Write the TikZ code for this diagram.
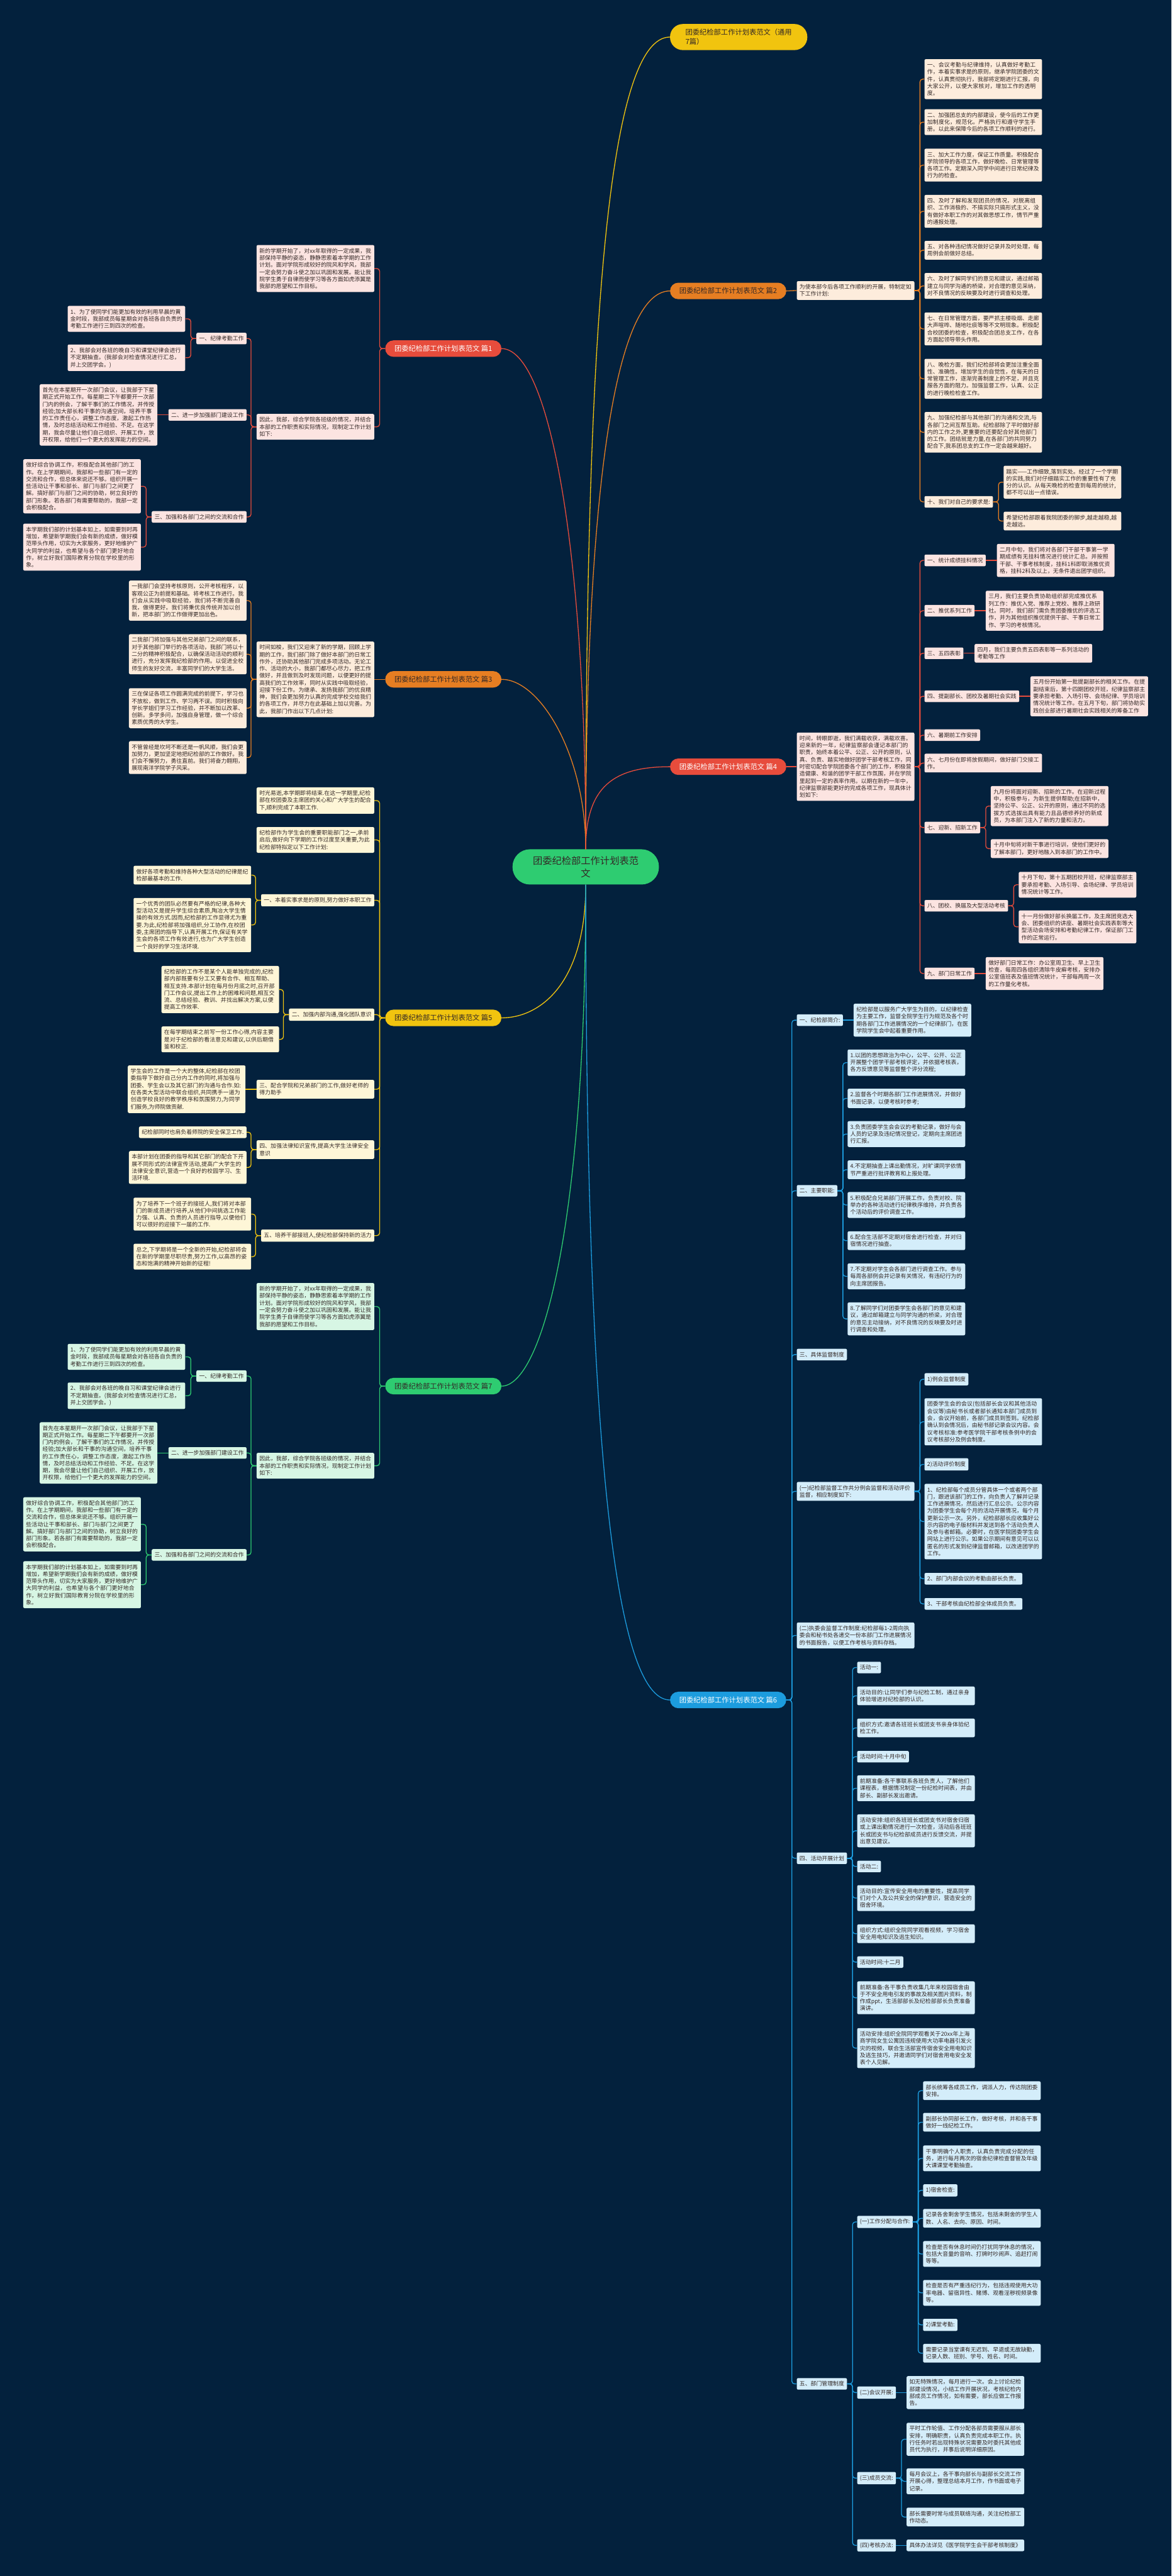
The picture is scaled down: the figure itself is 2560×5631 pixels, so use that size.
\documentclass[tikz,border=0pt]{standalone}
\usepackage{fontspec}
\setmainfont{Noto Sans CJK SC}
\usepackage{tikz}
\usetikzlibrary{positioning}
\definecolor{navy}{RGB}{3,33,61}
\definecolor{ink}{RGB}{51,40,38}
\definecolor{redc}{RGB}{231,76,60}
\definecolor{orangec}{RGB}{230,126,34}
\definecolor{yellowc}{RGB}{241,196,15}
\definecolor{greenc}{RGB}{46,204,113}
\definecolor{bluec}{RGB}{28,156,222}
\definecolor{redp}{RGB}{252,228,225}
\definecolor{orangep}{RGB}{253,236,220}
\definecolor{yellowp}{RGB}{254,246,215}
\definecolor{greenp}{RGB}{215,246,228}
\definecolor{bluep}{RGB}{212,237,250}
\XeTeXlinebreaklocale "zh"
\XeTeXlinebreakskip=0pt plus 1pt

\begin{document}
\begin{tikzpicture}[x=1pt,y=-1pt,
    every node/.style={text=ink},
    note/.style={rounded corners=3pt,inner xsep=6pt,inner ysep=7pt,
                 font=\fontsize{12.2}{15.5}\selectfont,align=left},
    box/.style={note,text width=245pt},
    tag/.style={note},
    main/.style={rounded corners=18pt,minimum height=36pt,minimum width=254pt,
                 font=\fontsize{15.5}{18}\selectfont},
    root/.style={fill=greenc,rounded corners=38pt,minimum width=320pt,minimum height=77pt,
                 align=center,font=\fontsize{21}{27}\selectfont},
    link/.style={line width=1.8pt,rounded corners=6pt},
  ]
  \fill[navy] (0,0) rectangle (2560,5631);
  \useasboundingbox (0,0) rectangle (2560,5631);

  % centre and the seven branches
  \node[root] (root) at (1280,1895) {团委纪检部工作计划表范\\文};
  \node[main,fill=yellowc,anchor=west,minimum width=300pt,minimum height=57pt,rounded corners=28pt,
        align=left,font=\fontsize{15.5}{20}\selectfont] (gen) at (1464,81) {团委纪检部工作计划表范文（通用\\7篇）};
  \node[main,fill=redc,text=white,anchor=east] (b1) at (1096,762) {团委纪检部工作计划表范文 篇1};
  \node[main,fill=orangec,anchor=west] (b2) at (1464,636) {团委纪检部工作计划表范文 篇2};
  \node[main,fill=orangec,anchor=east] (b3) at (1096,1485) {团委纪检部工作计划表范文 篇3};
  \node[main,fill=redc,text=white,anchor=west] (b4) at (1464,1676) {团委纪检部工作计划表范文 篇4};
  \node[main,fill=yellowc,anchor=east] (b5) at (1096,2225) {团委纪检部工作计划表范文 篇5};
  \node[main,fill=bluec,text=white,anchor=west] (b6) at (1464,3716) {团委纪检部工作计划表范文 篇6};
  \node[main,fill=greenc,anchor=east] (b7) at (1096,3030) {团委纪检部工作计划表范文 篇7};

  \draw[link,draw=yellowc] (root.north) .. controls (1280,700) and (1330,81) .. (gen.west);
  \draw[link,draw=orangec] (root.north) .. controls (1280,1100) and (1340,636) .. (b2.west);
  \draw[link,draw=redc] (root.north) .. controls (1280,1200) and (1200,762) .. (b1.east);
  \draw[link,draw=orangec] (root.north) .. controls (1280,1650) and (1180,1485) .. (b3.east);
  \draw[link,draw=redc] (root.north) .. controls (1280,1720) and (1340,1676) .. (b4.west);
  \draw[link,draw=yellowc] (root.south) .. controls (1280,2150) and (1180,2225) .. (b5.east);
  \draw[link,draw=greenc] (root.south) .. controls (1280,2700) and (1180,3030) .. (b7.east);
  \draw[link,draw=bluec] (root.south) .. controls (1280,3300) and (1360,3716) .. (b6.west);

  % 篇1
  \begin{scope}[note/.append style={fill=redp},link/.append style={draw=redc}]
    \node[box,anchor=east] (p1i1) at (818,587) {新的学期开始了，对xx年取得的一定成果，我部保持平静的姿态，静静思索着本学期的工作计划。面对学院形成较好的院风和学风，我部一定会努力奋斗使之加以巩固和发展。能让我院学生勇于自律而使学习等各方面如虎添翼是我部的愿望和工作目标。};
    \node[box,anchor=east] (p1i2) at (818,933) {因此，我部，综合学院各班级的情况，并结合本部的工作职责和实际情况，现制定工作计划如下:};
    \node[tag,anchor=east] (p1a) at (539,740) {一、纪律考勤工作};
    \node[box,anchor=east] (p1a1) at (405,697) {1、为了使同学们能更加有效的利用早晨的黄金时段，我部成员每星期会对各班各自负责的考勤工作进行三到四次的检查。};
    \node[box,anchor=east] (p1a2) at (405,782) {2、我部会对各班的晚自习和课堂纪律会进行不定期抽查。(我部会对检查情况进行汇总，并上交团学会。)};
    \node[tag,anchor=east] (p1b) at (539,907) {二、进一步加强部门建设工作};
    \node[box,left=24pt of p1b] (p1b1) {首先在本星期开一次部门会议，让我部于下星期正式开始工作。每星期二下午都要开一次部门内的例会，了解干事们的工作情况，并传授经验;加大部长和干事的沟通空间，培养干事的工作责任心，调整工作态度，激起工作热情，及时总结活动和工作经验、不足。在这学期，我会尽量让他们自己组织、开展工作，放开权限，给他们一个更大的发挥能力的空间。};
    \node[tag,anchor=east] (p1c) at (539,1130) {三、加强和各部门之间的交流和合作};
    \node[box,anchor=east] (p1c1) at (308,1063) {做好综合协调工作，积极配合其他部门的工作。在上学期期间，我部和一些部门有一定的交流和合作，但总体来说还不够。组织开展一些活动让干事和部长、部门与部门之间更了解。搞好部门与部门之间的协助，树立良好的部门形象。若各部门有需要帮助的，我部一定会积极配合。};
    \node[box,anchor=east] (p1c2) at (308,1196) {本学期我们部的计划基本如上，如需要到时再增加，希望新学期我们会有新的成绩，做好模范带头作用，切实为大家服务，更好地维护广大同学的利益，也希望与各个部门更好地合作，树立好我们国际教育分院在学校里的形象。};
    \foreach \c in {p1i1,p1i2} \draw[link] (b1.west) -- ++(-12,0) |- (\c.east);
    \foreach \c in {p1a,p1b,p1c} \draw[link] (p1i2.west) -- ++(-12,0) |- (\c.east);
    \foreach \c in {p1a1,p1a2} \draw[link] (p1a.west) -- ++(-12,0) |- (\c.east);
    \draw[link] (p1b.west) -- (p1b1.east);
    \foreach \c in {p1c1,p1c2} \draw[link] (p1c.west) -- ++(-12,0) |- (\c.east);
  \end{scope}

  % 篇2
  \begin{scope}[note/.append style={fill=orangep},link/.append style={draw=orangec}]
    \node[box,anchor=west] (p2in) at (1741,635) {为使本部今后各项工作顺利的开展，特制定如下工作计划:};
    \node[box,anchor=west] (p2a) at (2020,173) {一、会议考勤与纪律维持，认真做好考勤工作，本着实事求是的原则，继承学院团委的文件，认真贯彻执行，我部将定期进行汇报，向大家公开，以便大家核对，增加工作的透明度。};
    \node[box,anchor=west] (p2b) at (2020,267) {二、加强团总支的内部建设，使今后的工作更加制度化，规范化。严格执行和遵守学生手册。以此来保障今后的各项工作顺利的进行。};
    \node[box,anchor=west] (p2c) at (2020,361) {三、加大工作力度，保证工作质量。积极配合学院领导的各项工作，做好晚检、日常管理等各项工作。定期深入同学中间进行日常纪律及行为的检查。};
    \node[box,anchor=west] (p2d) at (2020,462) {四、及时了解和发现团员的情况，对脱离组织、工作消极的、不搞实际只搞形式主义，没有做好本职工作的对其做思想工作，情节严重的通报处理。};
    \node[box,anchor=west] (p2e) at (2020,547) {五、对各种违纪情况做好记录并及时处理，每周例会前做好总结。};
    \node[box,anchor=west] (p2f) at (2020,625) {六、及时了解同学们的意见和建议，通过邮箱建立与同学沟通的桥梁，对合理的意见采纳，对不良情况的反映要及时进行调查和处理。};
    \node[box,anchor=west] (p2g) at (2020,719) {七、在日常管理方面，要严抓主楼吸烟、走廊大声喧哗、随地吐痰等等不文明现象。积极配合校团委的检查，积极配合团总支工作，在各方面起领导带头作用。};
    \node[box,anchor=west] (p2h) at (2020,828) {八、晚检方面，我们纪检部将会更加注重全面性、准确性。增加学生的自觉性，在每天的日常管理工作，逐渐完善制度上的不足，并且克服各方面的阻力。加强监督工作，认真、公正的进行晚检检查工作。};
    \node[box,anchor=west] (p2i) at (2020,945) {九、加强纪检部与其他部门的沟通和交流,与各部门之间互帮互助。纪检部除了平时做好部内的工作之外,更重要的还要配合好其他部门的工作。团结就是力量,在各部门的共同努力配合下,我系团总支的工作一定会越来越好。};
    \node[tag,anchor=west] (p2j) at (2020,1097) {十、我们对自己的要求是:};
    \node[box,anchor=west] (p2j1) at (2193,1054) {踏实——工作细致,落到实处。经过了一个学期的实践,我们对仔细踏实工作的重要性有了充分的认识。从每天晚检的检查到每周的统计,都不可以出一点错误。};
    \node[box,anchor=west] (p2j2) at (2193,1139) {希望纪检部跟着我院团委的脚步,越走越稳,越走越远。};
    \draw[link] (b2.east) -- (p2in.west);
    \foreach \c in {p2a,p2b,p2c,p2d,p2e,p2f,p2g,p2h,p2i,p2j} \draw[link] (p2in.east) -- ++(12,0) |- (\c.west);
    \foreach \c in {p2j1,p2j2} \draw[link] (p2j.east) -- ++(12,0) |- (\c.west);
  \end{scope}

  % 篇3
  \begin{scope}[note/.append style={fill=orangep},link/.append style={draw=orangec}]
    \node[box,anchor=east] (p3in) at (818,1485) {时间如梭，我们又迎来了新的学期，回顾上学期的工作，我们部门除了做好本部门的日常工作外，还协助其他部门完成多项活动。无论工作、活动的大小，我部门都尽心尽力，把工作做好，并且做到及时发现问题，以便更好的提高我们的工作效率，同时从实践中吸取经验，迎接下份工作。为继承、发扬我部门的优良精神，我们会更加努力认真的完成学校交给我们的各项工作，并尽力在此基础上加以完善。为此，我部门作出以下几点计划:};
    \node[box,anchor=east] (p3a) at (539,1313) {一我部门会坚持考核原则，公开考核程序，以客观公正为前提和基础。将考核工作进行。我们会从实践中吸取经验，我们将不断完善自我，做得更好。我们将秉优良传统并加以创新，把本部门的工作做得更加出色。};
    \node[box,anchor=east] (p3b) at (539,1430) {二我部门将加强与其他兄弟部门之间的联系，对于其他部门举行的各项活动，我部门将以十二分的精神积极配合，以确保活动活动的顺利进行，充分发挥我纪检部的作用。以促进全校师生的友好交流，丰富同学们的大学生活。};
    \node[box,anchor=east] (p3c) at (539,1548) {三在保证各项工作圆满完成的前提下，学习也不放松，做到工作、学习两不误。同时积极向学长学姐们学习工作经验，并不断加以改革、创新。多学多问，加强自身管理，做一个综合素质优秀的大学生。};
    \node[box,anchor=east] (p3d) at (539,1656) {不管曾经是坎坷不断还是一帆风顺，我们会更加努力，更加坚定地把纪检部的工作做好。我们会不懈努力，勇往直前。我们将奋力翱翔，展现南洋学院学子风采。};
    \draw[link] (b3.west) -- (p3in.east);
    \foreach \c in {p3a,p3b,p3c,p3d} \draw[link] (p3in.west) -- ++(-12,0) |- (\c.east);
  \end{scope}

  % 篇4
  \begin{scope}[note/.append style={fill=redp},link/.append style={draw=redc}]
    \node[box,anchor=west] (p4in) at (1741,1676) {时间，转眼即逝，我们满载收获，满载欢喜。迎来新的一年，纪律监察部会谨记本部门的职责，始终本着公平、公正、公开的原则，认真、负责、踏实地做好团学干部考核工作，同时密切配合学院团委各个部门的工作，积极营造健康、和谐的团学干部工作氛围，并在学院里起到一定的表率作用。以期在新的一年中，纪律监察部能更好的完成各项工作，现具体计划如下:};
    \node[tag,anchor=west] (p4a) at (2020,1225) {一、统计成绩挂科情况};
    \node[box,right=24pt of p4a] (p4a1) {二月中旬，我们将对各部门干部干事第一学期成绩有无挂科情况进行统计汇总。并按照干部、干事考核制度，挂科1科即取消推优资格，挂科2科及以上，无条件退出团学组织。};
    \node[tag,anchor=west] (p4b) at (2020,1335) {二、推优系列工作};
    \node[box,right=24pt of p4b] (p4b1) {三月，我们主要负责协助组织部完成推优系列工作：推优入党、推荐上党校、推荐上政研社。同时，我们部门需负责团委推优的评选工作，并为其他组织推优提供干部、干事日常工作、学习的考核情况。};
    \node[tag,anchor=west] (p4c) at (2020,1428) {三、五四表彰};
    \node[box,right=24pt of p4c] (p4c1) {四月，我们主要负责五四表彰等一系列活动的考勤等工作};
    \node[tag,anchor=west] (p4d) at (2020,1522) {四、提副部长、团校及暑期社会实践};
    \node[box,right=24pt of p4d] (p4d1) {五月份开始第一批提副部长的相关工作。在提副结束后，第十四期团校开班，纪律监察部主要承担考勤、入场引导、会场纪律、学员培训情况统计等工作。在五月下旬，部门将协助实践创业部进行暑期社会实践相关的筹备工作};
    \node[tag,anchor=west] (p4e) at (2020,1607) {六、暑期前工作安排};
    \node[box,anchor=west] (p4f) at (2020,1668) {六、七月份在即将放假期间，做好部门交接工作。};
    \node[tag,anchor=west] (p4g) at (2020,1809) {七、迎新、招新工作};
    \node[box,anchor=west] (p4g1) at (2165,1762) {九月份将面对迎新、招新的工作。在迎新过程中，积极参与，为新生提供帮助;在招新中，坚持公平、公正、公开的原则，通过不同的选拔方式选拔出具有能力且品德修养好的新成员，为本部门注入了新的力量和活力。};
    \node[box,anchor=west] (p4g2) at (2165,1855) {十月中旬将对新干事进行培训，使他们更好的了解本部门，更好地融入到本部门的工作中。};
    \node[tag,anchor=west] (p4h) at (2020,1980) {八、团校、换届及大型活动考核};
    \node[box,anchor=west] (p4h1) at (2226,1934) {十月下旬，第十五期团校开班，纪律监察部主要承担考勤、入场引导、会场纪律、学员培训情况统计等工作。};
    \node[box,anchor=west] (p4h2) at (2226,2026) {十一月份做好部长换届工作，及主席团竞选大会、团委组织的讲座、暑期社会实践表彰等大型活动会场安排和考勤纪律工作，保证部门工作的正常运行。};
    \node[tag,anchor=west] (p4i) at (2020,2128) {九、部门日常工作};
    \node[box,right=24pt of p4i] (p4i1) {做好部门日常工作：办公室周卫生、早上卫生检查，每周四各组织清除牛皮癣考核，安排办公室值班表及值班情况统计，干部每两周一次的工作量化考核。};
    \draw[link] (b4.east) -- (p4in.west);
    \foreach \c in {p4a,p4b,p4c,p4d,p4e,p4f,p4g,p4h,p4i} \draw[link] (p4in.east) -- ++(12,0) |- (\c.west);
    \foreach \p in {p4a,p4b,p4c,p4d,p4i} \draw[link] (\p.east) -- (\p1.west);
    \foreach \c in {p4g1,p4g2} \draw[link] (p4g.east) -- ++(12,0) |- (\c.west);
    \foreach \c in {p4h1,p4h2} \draw[link] (p4h.east) -- ++(12,0) |- (\c.west);
  \end{scope}

  % 篇5
  \begin{scope}[note/.append style={fill=yellowp},link/.append style={draw=yellowc}]
    \node[box,anchor=east] (p5i1) at (818,1750) {时光易逝,本学期即将结束.在这一学期里,纪检部在校团委及主席团的关心和广大学生的配合下,顺利完成了本职工作.};
    \node[box,anchor=east] (p5i2) at (818,1836) {纪检部作为学生会的重要职能部门之一,承前启后,做好向下学期的工作过度至关重要,为此纪检部特拟定以下工作计划:};
    \node[tag,anchor=east] (p5a) at (818,1968) {一、本着实事求是的原则,努力做好本职工作};
    \node[box,anchor=east] (p5a1) at (549,1913) {做好各项考勤和维持各种大型活动的纪律是纪检部最基本的工作.};
    \node[box,anchor=east] (p5a2) at (549,2022) {一个优秀的团队必然要有严格的纪律,各种大型活动又是提升学生综合素质,陶冶大学生情操的有效方式.因而,纪检部的工作显得尤为重要.为此,纪检部将加强组织,分工协作,在校团委,主席团的指导下,认真开展工作,保证有关学生会的各项工作有效进行,也为广大学生创造一个良好的学习生活环境.};
    \node[tag,anchor=east] (p5b) at (818,2218) {二、加强内部沟通,强化团队意识};
    \node[box,anchor=east] (p5b1) at (610,2163) {纪检部的工作不是某个人能单独完成的,纪检部内部既要有分工又要有合作、相互帮助、相互支持.本部计划在每月份月底之时,召开部门工作会议,提出工作上的困难和问题,相互交流、总结经验、教训、并找出解决方案,以便提高工作效率.};
    \node[box,anchor=east] (p5b2) at (610,2272) {在每学期结束之前写一份工作心得,内容主要是对于纪检部的看法意见和建议,以供后期借鉴和校正.};
    \node[box,anchor=east] (p5c) at (818,2381) {三、配合学院和兄弟部门的工作,做好老师的得力助手};
    \node[box,left=24pt of p5c] (p5c1) {学生会的工作是一个大的整体,纪检部在校团委指导下做好自己分内工作的同时,将加强与团委、学生会以及其它部门的沟通与合作.如:在各类大型活动中联合组织,共同携手一道为创造学校良好的教学秩序和氛围努力,为同学们服务,为师院做贡献.};
    \node[box,anchor=east] (p5d) at (818,2513) {四、加强法律知识宣传,提高大学生法律安全意识};
    \node[tag,anchor=east] (p5d1) at (539,2475) {纪检部同时也肩负着师院的安全保卫工作.};
    \node[box,anchor=east] (p5d2) at (539,2552) {本部计划在团委的指导和其它部门的配合下开展不同形式的法律宣传活动,提高广大学生的法律安全意识,营造一个良好的校园学习、生活环境.};
    \node[tag,anchor=east] (p5e) at (818,2701) {五、培养干部接班人,使纪检部保持新的活力};
    \node[box,anchor=east] (p5e1) at (549,2654) {为了培养下一个班子的接班人,我们将对本部门的新成员进行培养,从他们中间挑选工作能力强、认真、负责的人员进行指导,以便他们可以很好的迎接下一届的工作.};
    \node[box,anchor=east] (p5e2) at (549,2747) {总之,下学期将是一个全新的开始,纪检部将会在新的学期里尽职尽责,努力工作,以高昂的姿态和饱满的精神开始新的征程!};
    \foreach \c in {p5i1,p5i2,p5a,p5b,p5c,p5d,p5e} \draw[link] (b5.west) -- ++(-12,0) |- (\c.east);
    \foreach \c in {p5a1,p5a2} \draw[link] (p5a.west) -- ++(-12,0) |- (\c.east);
    \foreach \c in {p5b1,p5b2} \draw[link] (p5b.west) -- ++(-12,0) |- (\c.east);
    \draw[link] (p5c.west) -- (p5c1.east);
    \foreach \c in {p5d1,p5d2} \draw[link] (p5d.west) -- ++(-12,0) |- (\c.east);
    \foreach \c in {p5e1,p5e2} \draw[link] (p5e.west) -- ++(-12,0) |- (\c.east);
  \end{scope}

  % 篇7
  \begin{scope}[note/.append style={fill=greenp},link/.append style={draw=greenc}]
    \node[box,anchor=east] (p7i1) at (818,2856) {新的学期开始了，对xx年取得的一定成果，我部保持平静的姿态，静静思索着本学期的工作计划。面对学院形成较好的院风和学风，我部一定会努力奋斗使之加以巩固和发展。能让我院学生勇于自律而使学习等各方面如虎添翼是我部的愿望和工作目标。};
    \node[box,anchor=east] (p7i2) at (818,3204) {因此，我部，综合学院各班级的情况，并结合本部的工作职责和实际情况，现制定工作计划如下:};
    \node[tag,anchor=east] (p7a) at (539,3008) {一、纪律考勤工作};
    \node[box,anchor=east] (p7a1) at (405,2966) {1、为了使同学们能更加有效的利用早晨的黄金时段，我部成员每星期会对各班各自负责的考勤工作进行三到四次的检查。};
    \node[box,anchor=east] (p7a2) at (405,3051) {2、我部会对各班的晚自习和课堂纪律会进行不定期抽查。(我部会对检查情况进行汇总，并上交团学会。)};
    \node[tag,anchor=east] (p7b) at (539,3176) {二、进一步加强部门建设工作};
    \node[box,left=24pt of p7b] (p7b1) {首先在本星期开一次部门会议，让我部于下星期正式开始工作。每星期二下午都要开一次部门内的例会，了解干事们的工作情况，并传授经验;加大部长和干事的沟通空间，培养干事的工作责任心，调整工作态度，激起工作热情，及时总结活动和工作经验、不足。在这学期，我会尽量让他们自己组织、开展工作，放开权限，给他们一个更大的发挥能力的空间。};
    \node[tag,anchor=east] (p7c) at (539,3399) {三、加强和各部门之间的交流和合作};
    \node[box,anchor=east] (p7c1) at (308,3332) {做好综合协调工作，积极配合其他部门的工作。在上学期期间，我部和一些部门有一定的交流和合作，但总体来说还不够。组织开展一些活动让干事和部长、部门与部门之间更了解。搞好部门与部门之间的协助，树立良好的部门形象。若各部门有需要帮助的，我部一定会积极配合。};
    \node[box,anchor=east] (p7c2) at (308,3464) {本学期我们部的计划基本如上，如需要到时再增加，希望新学期我们会有新的成绩，做好模范带头作用，切实为大家服务，更好地维护广大同学的利益，也希望与各个部门更好地合作，树立好我们国际教育分院在学校里的形象。};
    \foreach \c in {p7i1,p7i2} \draw[link] (b7.west) -- ++(-12,0) |- (\c.east);
    \foreach \c in {p7a,p7b,p7c} \draw[link] (p7i2.west) -- ++(-12,0) |- (\c.east);
    \foreach \c in {p7a1,p7a2} \draw[link] (p7a.west) -- ++(-12,0) |- (\c.east);
    \draw[link] (p7b.west) -- (p7b1.east);
    \foreach \c in {p7c1,p7c2} \draw[link] (p7c.west) -- ++(-12,0) |- (\c.east);
  \end{scope}

  % 篇6
  \begin{scope}[note/.append style={fill=bluep},link/.append style={draw=bluec}]
    \node[tag,anchor=west] (p6a) at (1741,2230) {一、纪检部简介:};
    \node[box,right=23pt of p6a] (p6a1) {纪检部是以服务广大学生为目的，以纪律检查为主要工作，监督全院学生行为规范及各个时期各部门工作进展情况的一个纪律部门，在医学院学生会中起着重要作用。};
    \node[tag,anchor=west] (p6b) at (1741,2603) {二、主要职能:};
    \node[box,anchor=west] (p6b1) at (1852,2323) {1.以团的思想政治为中心，公平、公开、公正开展整个团学干部考核评定，并依据考核表，各方反馈意见等监督整个评分流程;};
    \node[box,anchor=west] (p6b2) at (1852,2401) {2.监督各个时期各部门工作进展情况，并做好书面记录，以便考核时参考;};
    \node[box,anchor=west] (p6b3) at (1852,2479) {3.负责团委学生会会议的考勤记录，做好与会人员的记录及违纪情况登记，定期向主席团进行汇报。};
    \node[box,anchor=west] (p6b4) at (1852,2557) {4.不定期抽查上课出勤情况，对旷课同学依情节严重进行批评教育和上报处理。};
    \node[box,anchor=west] (p6b5) at (1852,2634) {5.积极配合兄弟部门开展工作，负责对校、院举办的各种活动进行纪律秩序维持，并负责各个活动后的评价调查工作。};
    \node[box,anchor=west] (p6b6) at (1852,2712) {6.配合生活部不定期对宿舍进行检查，并对归宿情况进行抽查。};
    \node[box,anchor=west] (p6b7) at (1852,2790) {7.不定期对学生会各部门进行调查工作。参与每周各部例会并记录有关情况，有违纪行为的向主席团报告。};
    \node[box,anchor=west] (p6b8) at (1852,2883) {8.了解同学们对团委学生会各部门的意见和建议，通过邮箱建立与同学沟通的桥梁，对合理的意见主动接纳，对不良情况的反映要及时进行调查和处理。};
    \node[tag,anchor=west] (p6c) at (1741,2961) {三、具体监督制度};
    \node[box,anchor=west] (p6d) at (1741,3260) {(一)纪检部监督工作共分例会监督和活动评价监督，相应制度如下:};
    \node[tag,anchor=west] (p6d1) at (2020,3015) {1)例会监督制度};
    \node[box,anchor=west] (p6d2) at (2020,3108) {团委学生会的会议(包括部长会议和其他活动会议等)由秘书长或者部长通知本部门成员到会，会议开始前，各部门成员到签到。纪检部确认到会情况后，由秘书部记录会议内容。会议考核标准:参考医学院干部考核条例中的会议考核部分及例会制度。};
    \node[tag,anchor=west] (p6d3) at (2020,3201) {2)活动评价制度};
    \node[box,anchor=west] (p6d4) at (2020,3326) {1、纪检部每个成员分管具体一个或者两个部门，跟进该部门的工作，向负责人了解并记录工作进展情况，然后进行汇总公示。公示内容为团委学生会每个月的活动开展情况，每个月更新公示一次。另外，纪检部部长应收集好公示内容的电子版材料并发送到各个活动负责人及参与者邮箱。必要时，在医学院团委学生会网站上进行公示。如果公示期间有意见可以以匿名的形式发到纪律监督邮箱，以改进团学的工作。};
    \node[tag,anchor=west] (p6d5) at (2020,3451) {2、部门内部会议的考勤由部长负责。};
    \node[tag,anchor=west] (p6d6) at (2020,3506) {3、干部考核由纪检部全体成员负责。};
    \node[box,anchor=west] (p6e) at (1741,3575) {(二)执委会监督工作制度:纪检部每1-2周向执委会和秘书处各递交一份本部门工作进展情况的书面报告，以便工作考核与资料存档。};
    \node[tag,anchor=west] (p6f) at (1741,4062) {四、活动开展计划};
    \node[tag,anchor=west] (p6f1) at (1873,3645) {活动一:};
    \node[box,anchor=west] (p6f2) at (1873,3707) {活动目的:让同学们参与纪检工制，通过亲身体验增进对纪检部的认识。};
    \node[box,anchor=west] (p6f3) at (1873,3777) {组织方式:邀请各班班长或团支书亲身体验纪检工作。};
    \node[tag,anchor=west] (p6f4) at (1873,3840) {活动时间:十月中旬};
    \node[box,anchor=west] (p6f5) at (1873,3909) {前期准备:各干事联系各班负责人，了解他们课程表，根据情况制定一份纪检时间表，并由部长、副部长发出邀请。};
    \node[box,anchor=west] (p6f6) at (1873,4002) {活动安排:组织各班班长或团支书对宿舍归宿或上课出勤情况进行一次检查，活动后各班班长或团支书与纪检部成员进行反馈交流，并提出意见建议。};
    \node[tag,anchor=west] (p6f7) at (1873,4080) {活动二:};
    \node[box,anchor=west] (p6f8) at (1873,4149) {活动目的:宣传安全用电的重要性，提高同学们对个人及公共安全的保护意识，营造安全的宿舍环境。};
    \node[box,anchor=west] (p6f9) at (1873,4227) {组织方式:组织全院同学观看视频，学习宿舍安全用电知识及逃生知识。};
    \node[tag,anchor=west] (p6f10) at (1873,4289) {活动时间:十二月};
    \node[box,anchor=west] (p6f11) at (1873,4367) {前期准备:各干事负责收集几年来校园宿舍由于不安全用电引发的事故及相关图片资料，制作成ppt，生活部部长及纪检部部长负责准备演讲。};
    \node[box,anchor=west] (p6f12) at (1873,4477) {活动安排:组织全院同学观看关于20xx年上海商学院女生公寓因违规使用大功率电器引发火灾的视频，联合生活部宣传宿舍安全用电知识及逃生技巧，并邀请同学们对宿舍用电安全发表个人见解。};
    \node[tag,anchor=west] (p6g) at (1741,5211) {五、部门管理制度};
    \node[tag,anchor=west] (p6g1) at (1873,4857) {(一)工作分配与合作:};
    \node[box,anchor=west] (p6g11) at (2017,4570) {部长统筹各成员工作，调派人力，传达院团委安排。};
    \node[box,anchor=west] (p6g12) at (2017,4639) {副部长协同部长工作，做好考核，并和各干事做好一线纪检工作。};
    \node[box,anchor=west] (p6g13) at (2017,4718) {干事明确个人职责，认真负责完成分配的任务，进行每月两次的宿舍纪律检查督管及年级大课课堂考勤抽查。};
    \node[tag,anchor=west] (p6g14) at (2017,4788) {1)宿舍检查:};
    \node[box,anchor=west] (p6g15) at (2017,4849) {记录各舍剩舍学生情况，包括未剩舍的学生人数、人名、去向、原因、时间。};
    \node[box,anchor=west] (p6g16) at (2017,4927) {检查是否有休息时间仍打扰同学休息的情况，包括大音量的音响、打牌时吵闹声、追赶打闹等等。};
    \node[box,anchor=west] (p6g17) at (2017,5012) {检查是否有严重违纪行为，包括违规使用大功率电器、留宿异性、赌博、观看淫秽视频录像等。};
    \node[tag,anchor=west] (p6g18) at (2017,5082) {2)课堂考勤:};
    \node[box,anchor=west] (p6g19) at (2017,5144) {需要记录当堂课有无迟到、早退或无故缺勤，记录人数、班别、学号、姓名、时间。};
    \node[tag,anchor=west] (p6g2) at (1873,5230) {(二)会议开展:};
    \node[box,right=23pt of p6g2] (p6g21) {如无特殊情况，每月进行一次。会上讨论纪检部建设情况，小结工作开展状况，考核纪检内部成员工作情况，如有需要，部长应做工作报告。};
    \node[tag,anchor=west] (p6g3) at (1873,5417) {(三)成员交流:};
    \node[box,anchor=west] (p6g31) at (1981,5332) {平时工作轮值、工作分配各部员需要服从部长安排，明确职责，认真负责完成本职工作。执行任务时若出现特殊状况需要及时委托其他成员代为执行，并事后说明详细原因。};
    \node[box,anchor=west] (p6g32) at (1981,5424) {每月会议上，各干事向部长与副部长交流工作开展心得，整理总结本月工作，作书面或电子记录。};
    \node[box,anchor=west] (p6g33) at (1981,5502) {部长需要时常与成员联络沟通，关注纪检部工作动态。};
    \node[tag,anchor=west] (p6g4) at (1873,5564) {(四)考核办法:};
    \node[box,right=23pt of p6g4] (p6g41) {具体办法详见《医学院学生会干部考核制度》};
    \foreach \c in {p6a,p6b,p6c,p6d,p6e,p6f,p6g} \draw[link] (b6.east) -- ++(12,0) |- (\c.west);
    \draw[link] (p6a.east) -- (p6a1.west);
    \foreach \c in {p6b1,p6b2,p6b3,p6b4,p6b5,p6b6,p6b7,p6b8} \draw[link] (p6b.east) -- ++(12,0) |- (\c.west);
    \foreach \c in {p6d1,p6d2,p6d3,p6d4,p6d5,p6d6} \draw[link] (p6d.east) -- ++(12,0) |- (\c.west);
    \foreach \c in {p6f1,p6f2,p6f3,p6f4,p6f5,p6f6,p6f7,p6f8,p6f9,p6f10,p6f11,p6f12} \draw[link] (p6f.east) -- ++(12,0) |- (\c.west);
    \foreach \c in {p6g1,p6g2,p6g3,p6g4} \draw[link] (p6g.east) -- ++(12,0) |- (\c.west);
    \foreach \c in {p6g11,p6g12,p6g13,p6g14,p6g15,p6g16,p6g17,p6g18,p6g19} \draw[link] (p6g1.east) -- ++(12,0) |- (\c.west);
    \draw[link] (p6g2.east) -- (p6g21.west);
    \foreach \c in {p6g31,p6g32,p6g33} \draw[link] (p6g3.east) -- ++(12,0) |- (\c.west);
    \draw[link] (p6g4.east) -- (p6g41.west);
  \end{scope}
\end{tikzpicture}
\end{document}
